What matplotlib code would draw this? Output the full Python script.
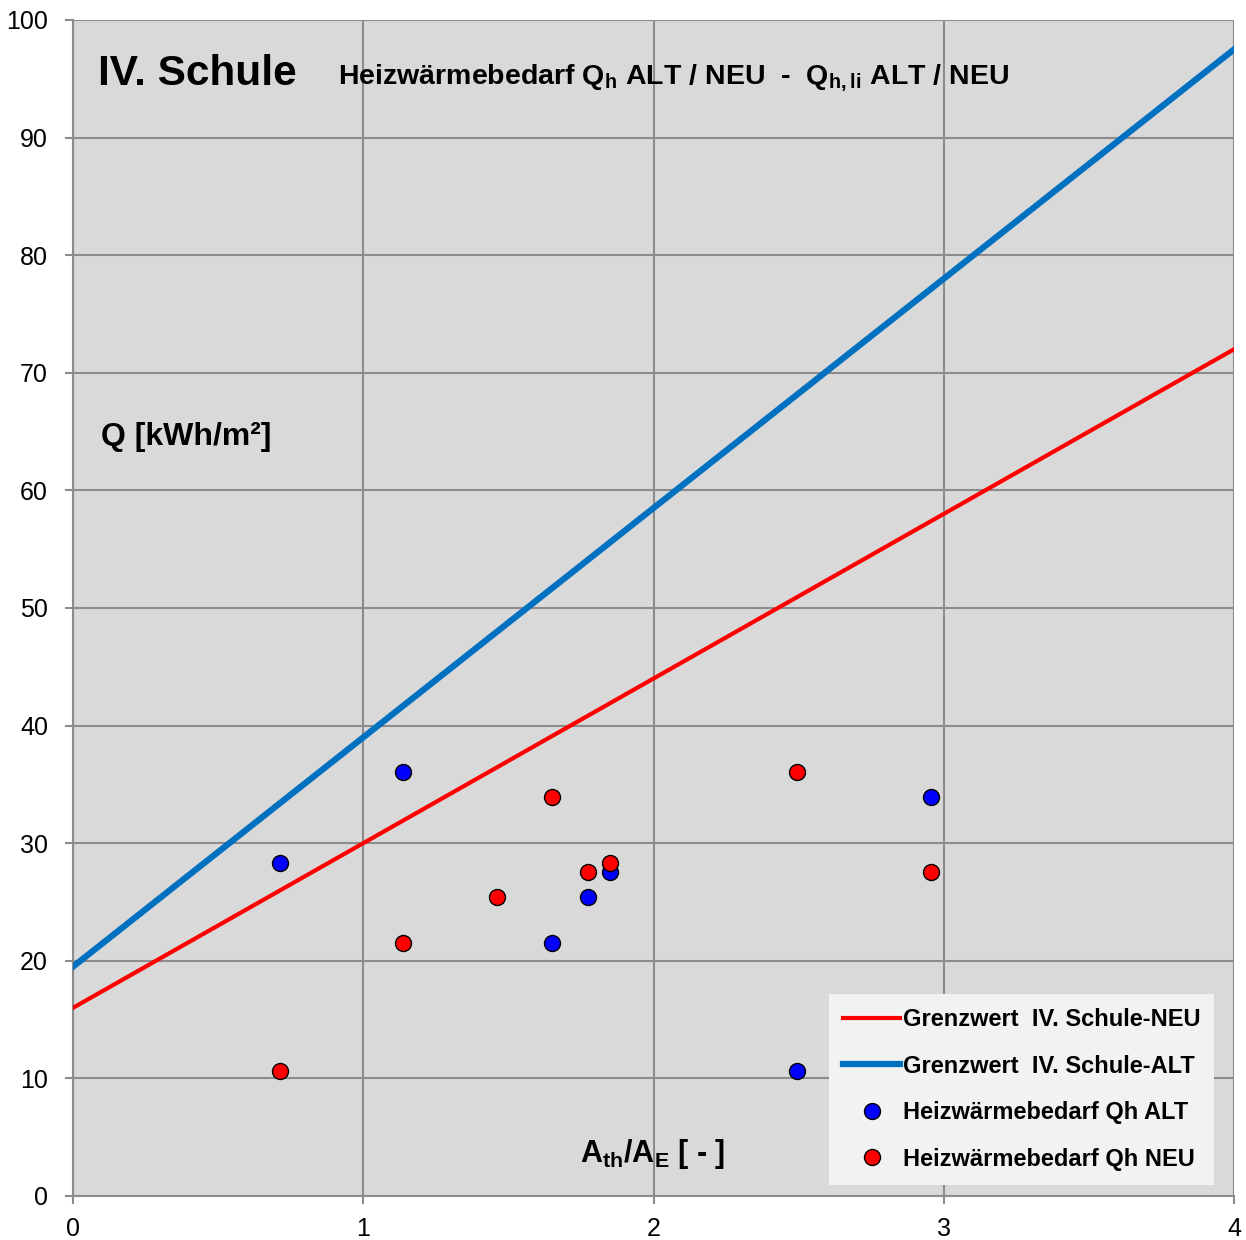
import matplotlib
matplotlib.use("Agg")
import matplotlib.pyplot as plt

# Grenzwerte (Geraden) an den Enden des Bereichs
grenz_x = [0, 4]
grenz_neu = [16.0, 72.0]
grenz_alt = [19.5, 97.5]

# Heizwärmebedarf der Schulen
ath_ae = [0.713, 1.137, 1.461, 1.650, 1.774, 1.850, 2.494, 2.956]
qh_alt = [28.3, 36.05, None, 21.5, 25.4, 27.55, 10.6, 33.9]
qh_neu = [10.6, 21.5, 25.4, 33.9, 27.55, 28.3, 36.05, 27.55]

x_ticks = [0, 1, 2, 3, 4]
y_ticks = [0, 10, 20, 30, 40, 50, 60, 70, 80, 90, 100]

plt.rcParams['mathtext.fontset'] = 'custom'
plt.rcParams['mathtext.rm'] = 'Liberation Sans:bold'
plt.rcParams['mathtext.sf'] = 'Liberation Sans:bold'

fig = plt.figure(figsize=(12.46, 12.40), dpi=100)
ax = fig.add_axes([0.0586, 0.0355, 0.9318, 0.9484])
ax.set_facecolor('#d9d9d9')

ax.plot(grenz_x, grenz_neu, color='#ff0000', lw=3, label='Grenzwert  IV. Schule-NEU', zorder=3)
ax.plot(grenz_x, grenz_alt, color='#0070c0', lw=4.5, label='Grenzwert  IV. Schule-ALT', zorder=3)

xa = [x for x, q in zip(ath_ae, qh_alt) if q is not None]
ya = [q for q in qh_alt if q is not None]
ax.plot(xa, ya, ls='', marker='o', ms=11.5, mfc='#0000ff', mec='black', mew=1,
        label='Heizwärmebedarf Qh ALT', zorder=4)
ax.plot(ath_ae, qh_neu, ls='', marker='o', ms=11.5, mfc='#ff0000', mec='black', mew=1,
        label='Heizwärmebedarf Qh NEU', zorder=5)

ax.set_xlim(0, 4)
ax.set_ylim(0, 100)
ax.set_xticks(x_ticks)
ax.set_yticks(y_ticks)
ax.grid(True, color='#8c8c8c', lw=1.5)
ax.set_axisbelow(True)
for s in ['top', 'right']:
    ax.spines[s].set_visible(False)
for s in ['left', 'bottom']:
    ax.spines[s].set_color('#8c8c8c')
    ax.spines[s].set_linewidth(1.5)
ax.tick_params(colors='#8c8c8c', length=6, width=1.5, labelcolor='black', labelsize=18)
ax.tick_params(axis='y', pad=12)
ax.tick_params(axis='x', pad=9)
for lbl in ax.get_xticklabels() + ax.get_yticklabels():
    lbl.set_family('Liberation Sans')

ax.text(0.0215, 0.945, 'IV. Schule', transform=ax.transAxes, fontsize=30.5,
        fontweight='bold', family='Liberation Sans')
ax.text(0.228, 0.945, r'Heizwärmebedarf Q$_\mathrm{h}$ ALT / NEU  -  Q$_\mathrm{h,li}$ ALT / NEU',
        transform=ax.transAxes, fontsize=20.5, fontweight='bold', family='Liberation Sans')
ax.text(0.024, 0.639, 'Q [kWh/m²]', transform=ax.transAxes, fontsize=23,
        fontweight='bold', family='Liberation Sans')
ax.text(0.437, 0.029, r'A$_\mathsf{th}$/A$_\mathsf{E}$ [ - ]', transform=ax.transAxes,
        fontsize=22, fontweight='bold', family='Liberation Sans')

leg = ax.legend(loc='lower right', bbox_to_anchor=(0.983, 0.0094), borderaxespad=0,
                frameon=True, fancybox=False, facecolor='#f2f2f2', edgecolor='none',
                framealpha=1, handlelength=2.4, handletextpad=0.1, labelspacing=1.0,
                borderpad=0.6,
                prop={'family': 'Liberation Sans', 'weight': 'bold', 'size': 17})

fig.savefig('out.png', dpi=100)
